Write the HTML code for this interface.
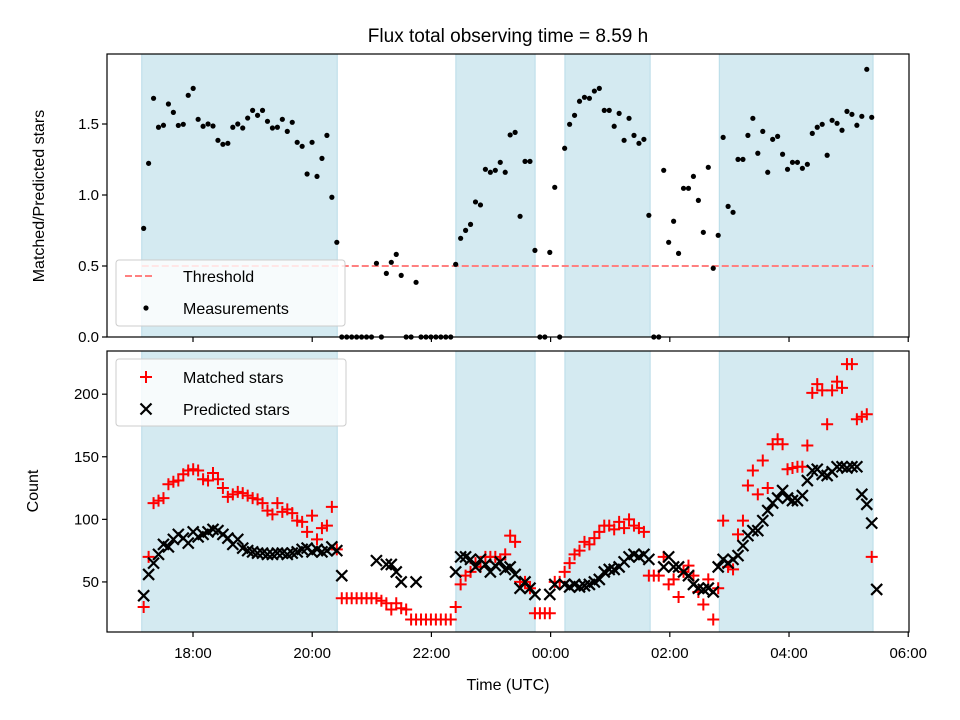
<!DOCTYPE html>
<html><head><meta charset="utf-8"><style>
body{margin:0;background:#fff;}
svg{display:block;font-family:"Liberation Sans","DejaVu Sans",sans-serif;}
</style></head><body>
<svg id="chart" width="960" height="720" viewBox="0 0 960 720" xmlns="http://www.w3.org/2000/svg"></svg>
<script>
// Sampling cadence of observations (hours since midnight of first night)
const timeStart = 17.172;
const timeStep = 0.0831;
// Observing windows (hours)
const windowStarts = [17.14, 22.41, 24.24, 26.83];
const windowEnds = [20.42, 23.74, 25.67, 29.41];
const threshold = 0.5;
// Matched/Predicted ratio per sample (null = none)
const ratio = [0.765,1.223,1.681,1.477,1.491,1.641,1.582,1.49,1.498,1.702,1.751,1.533,1.484,1.5,1.486,1.385,1.357,1.364,1.477,1.5,
1.472,1.542,1.596,1.561,1.596,1.519,1.472,1.477,1.533,1.448,1.512,1.371,1.343,1.148,1.371,1.131,1.258,1.42,0.984,0.667,
0,0,0,0,0,0,0,0.519,0,0.448,0.526,0.582,0.434,0,0,0.385,0,0,0,0,0,0,0,0.512,0.695,0.751,0.793,0.951,0.93,1.181,1.16,1.174,1.23,1.16,
1.423,1.441,0.85,1.237,1.237,0.61,0,0,0.596,1.054,0,1.329,1.498,1.561,1.66,1.688,1.681,1.732,1.751,1.596,1.596,1.484,1.575,1.385,1.54,1.42,
1.364,1.392,0.857,0,0,1.174,0.667,0.815,0.589,1.047,1.047,1.131,0.962,0.737,1.195,0.484,0.716,1.406,0.92,0.878,1.251,1.251,1.42,1.54,1.294,
1.448,1.16,1.392,1.413,1.287,1.181,1.23,1.23,1.188,1.216,1.434,1.477,1.498,1.28,1.526,1.505,1.456,1.589,1.568,1.491,1.554,1.885,1.547];
// Matched star counts per sample
const matched = [30,70,113,115,117,128,130,131,136,139,140,139,132,131,137,132,125,118,120,122,
121,119,117,116,113,107,104,113,106,108,105,99,98,90,103,84,93,95,110,76,
37,37,37,37,37,37,37,37,35,33,28,33,29,28,20,20,20,20,20,20,20,20,20,30,48,55,58,65,62,70,70,70,68,72,
87,82,50,50,45,25,25,25,25,50,50,58,65,72,75,82,80,85,90,95,95,92,98,93,100,95,
93,90,55,55,55,70,48,52,38,58,63,55,42,32,52,20,45,99,62,60,88,99,127,139,120,
147,125,160,164,160,140,141,142,142,159,201,208,203,176,203,210,205,224,224,180,182,184,70];
// Predicted star counts per sample (null = none)
const predicted = [39,56,65,72,80,78,84,88,85,81,90,86,88,90,92,91,88,85,80,84,
77,75,74,73,73,72,72,73,73,72,73,74,76,77,74,76,74,75,78,75,
55,null,null,null,null,null,null,67,null,64,64,58,50,null,null,50,null,null,null,null,null,null,null,58,70,70,68,62,68,64,58,63,66,60,
62,56,45,50,45,40,null,null,40,48,null,48,46,48,46,47,48,50,52,58,60,60,62,66,70,72,
70,72,68,null,null,62,70,62,62,58,55,48,45,44,45,42,62,68,65,68,71,79,87,91,91,
99,107,113,117,123,117,115,115,119,131,139,140,136,135,138,142,142,141,142,142,120,112,97,44];
const xTicks = [18,20,22,24,26,28,30];
const xTickLabels = ["18:00","20:00","22:00","00:00","02:00","04:00","06:00"];
const topTicks = [0,0.5,1.0,1.5];
const topTickLabels = ["0.0","0.5","1.0","1.5"];
const botTicks = [50,100,150,200];
const botTickLabels = ["50","100","150","200"];

const NS="http://www.w3.org/2000/svg";
const svg=document.getElementById('chart');
function mk(tag,attrs,parent){const e=document.createElementNS(NS,tag);for(const k in attrs)e.setAttribute(k,attrs[k]);(parent||svg).appendChild(e);return e;}
const L=107,R=909;
const X0=16.557,X1=30.013;
function xs(h){return L+(h-X0)/(X1-X0)*(R-L);}
const T0=54,T1=337,B0=351,B1=632;
function yTop(v){return T1-(v-0)/(1.993-0)*(T1-T0);}
function yBot(v){return B1-(v-10)/(234.5-10)*(B1-B0);}
function tAt(i){return timeStart+i*timeStep;}

// title
let ti=mk('text',{x:508,y:42,'font-size':19,'text-anchor':'middle',fill:'#000'});
ti.textContent='Flux total observing time = 8.59 h';



function panel(y0,y1,name){
  const g=mk('g',{});
  
  
  for(let k=0;k<windowStarts.length;k++){
    const r=mk('rect',{x:xs(windowStarts[k]),y:y0,width:xs(windowEnds[k])-xs(windowStarts[k]),height:y1-y0,fill:'#d4eaf1',stroke:'#b9dce8','stroke-width':1},g);
    
    
  }
  return g;
}
function frame(y0,y1,name,labels){
  const f=mk('rect',{x:L,y:y0,width:R-L,height:y1-y0,fill:'none',stroke:'#000','stroke-width':1.2});
  
  
  for(let k=0;k<xTicks.length;k++){
    const x=xs(xTicks[k]);
    const tk=mk('line',{x1:x,x2:x,y1:y1,y2:y1+5,stroke:'#000','stroke-width':1.2});
    
    
    if(labels){
      const t=mk('text',{x:x,y:y1+26,'font-size':15,'text-anchor':'middle'});
      t.textContent=xTickLabels[k];
      
      
    }
  }
}
function yticks(ticks,labs,fn){
  for(let k=0;k<ticks.length;k++){
    const y=fn(ticks[k]);
    const tk=mk('line',{x1:L-5,x2:L,y1:y,y2:y,stroke:'#000','stroke-width':1.2});
    
    
    const t=mk('text',{x:L-8,y:y+5,'font-size':15,'text-anchor':'end'});
    t.textContent=labs[k];
    
    
  }
}

// TOP PANEL
panel(T0,T1,'ratio-panel');
const th=mk('line',{x1:xs(windowStarts[0]),x2:xs(windowEnds[windowEnds.length-1]),y1:yTop(threshold),y2:yTop(threshold),stroke:'#ff8080','stroke-width':2,'stroke-dasharray':'7,3'});


for(let i=0;i<ratio.length;i++){
  if(ratio[i]===null)continue;
  const c=mk('circle',{cx:xs(tAt(i)),cy:yTop(ratio[i]),r:2.6,fill:'#000'});
  
  
}
frame(T0,T1,'ratio-panel',false);
yticks(topTicks,topTickLabels,yTop);
let yl1=mk('text',{x:0,y:0,'font-size':16,'text-anchor':'middle',transform:'translate(44,196) rotate(-90)'});
yl1.textContent='Matched/Predicted stars';


// top legend
const lg1=mk('g',{});


mk('rect',{x:116,y:260,width:229,height:66,rx:3,fill:'#ffffff','fill-opacity':0.8,stroke:'#cccccc'},lg1);
mk('line',{x1:125,x2:153,y1:276,y2:276,stroke:'#ff8080','stroke-width':2,'stroke-dasharray':'7,3'},lg1);
let lt=mk('text',{x:183,y:282,'font-size':16},lg1);lt.textContent='Threshold';


mk('circle',{cx:146,cy:308,r:2.6,fill:'#000'},lg1);
lt=mk('text',{x:183,y:314,'font-size':16},lg1);lt.textContent='Measurements';



// BOTTOM PANEL
panel(B0,B1,'count-panel');
function plus(x,y,g,c){mk('path',{d:`M${x-6},${y}H${x+6}M${x},${y-6}V${y+6}`,stroke:c,'stroke-width':2,fill:'none'},g);}
function cross(x,y,g,c){mk('path',{d:`M${x-5.5},${y-5.5}L${x+5.5},${y+5.5}M${x-5.5},${y+5.5}L${x+5.5},${y-5.5}`,stroke:c,'stroke-width':2.2,fill:'none'},g);}
const gm=mk('g',{});


for(let i=0;i<matched.length;i++){if(matched[i]===null)continue;plus(xs(tAt(i)),yBot(matched[i]),gm,'#ff0000');}
const gp=mk('g',{});


for(let i=0;i<predicted.length;i++){if(predicted[i]===null)continue;cross(xs(tAt(i)),yBot(predicted[i]),gp,'#000');}
frame(B0,B1,'count-panel',true);
yticks(botTicks,botTickLabels,yBot);
let yl2=mk('text',{x:0,y:0,'font-size':16,'text-anchor':'middle',transform:'translate(38,491) rotate(-90)'});
yl2.textContent='Count';


let xl=mk('text',{x:508,y:690,'font-size':16,'text-anchor':'middle'});
xl.textContent='Time (UTC)';


const lg2=mk('g',{});


mk('rect',{x:116,y:359,width:230,height:67,rx:3,fill:'#ffffff','fill-opacity':0.8,stroke:'#cccccc'},lg2);
plus(146,377,lg2,'#ff0000');
lt=mk('text',{x:183,y:383,'font-size':16},lg2);lt.textContent='Matched stars';


cross(146,409,lg2,'#000');
lt=mk('text',{x:183,y:415,'font-size':16},lg2);lt.textContent='Predicted stars';


</script>
</body></html>
